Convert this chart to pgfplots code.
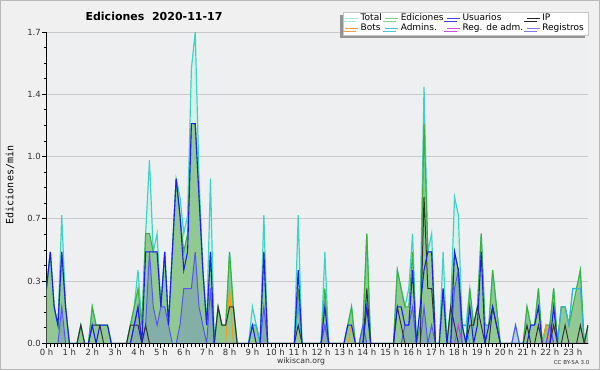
\documentclass[border=0pt]{standalone}
\usepackage{fontspec}
\setmainfont{DejaVu Sans}
\newfontfamily\monofont{DejaVu Sans Mono}
\usepackage{pgfplots}
\pgfplotsset{compat=1.18}
\usepackage{pgfplotstable}
\usetikzlibrary{shadows}

\definecolor{outc}{HTML}{F0F0F0}
\definecolor{bgc}{HTML}{EEEFF1}
\definecolor{gridc}{HTML}{C9C9C9}
\definecolor{totfill}{HTML}{D6F1EC}
\definecolor{totline}{HTML}{3FD3C6}
\definecolor{edfill}{HTML}{92C993}
\definecolor{edline}{HTML}{3DB13D}
\definecolor{usr}{HTML}{1E1EF0}
\definecolor{ipc}{HTML}{333333}
\definecolor{reg}{HTML}{5555F2}
\definecolor{bots}{HTML}{F39A1E}
\definecolor{adm}{HTML}{2EB4E0}
\definecolor{radm}{HTML}{C23EE0}
\definecolor{lgtot}{HTML}{A8E6E6}
\definecolor{lged}{HTML}{82CF82}
\definecolor{lgusr}{HTML}{4444DD}
\definecolor{lgip}{HTML}{222222}
\definecolor{lgbots}{HTML}{F0A040}
\definecolor{lgadm}{HTML}{4CC6DD}
\definecolor{lgradm}{HTML}{D050E0}
\definecolor{lgreg}{HTML}{7C7CF0}
\definecolor{tickc}{HTML}{333333}

% k = 10-minute interval of the day; T Total, E Ediciones, U Usuarios, I IP,
% R Registros, B Bots, A Admins., M Reg. de adm.
\pgfplotstableread{
k T E U I R B A M
0 0.3 0.3 0.3 0 0 0 0 0
1 0.5 0.5 0.5 0 0 0 0 0
2 0.2 0.2 0.2 0 0 0 0 0
3 0.1 0.1 0.1 0 0 0 0 0
4 0.7 0.5 0.5 0 0.2 0 0 0
5 0.2 0.2 0.2 0 0 0 0 0
6 0 0 0 0 0 0 0 0
7 0 0 0 0 0 0 0 0
8 0 0 0 0 0 0 0 0
9 0.1 0.1 0 0.1 0 0 0 0
10 0 0 0 0 0 0 0 0
11 0 0 0 0 0 0 0 0
12 0.2 0.2 0.1 0.1 0 0 0 0
13 0.1 0.1 0 0.1 0 0 0 0
14 0.1 0.1 0.1 0.1 0 0 0 0
15 0.1 0.1 0.1 0 0 0 0 0
16 0.1 0.1 0.1 0 0 0 0 0
17 0 0 0 0 0 0 0 0
18 0 0 0 0 0 0 0 0
19 0 0 0 0 0 0 0 0
20 0 0 0 0 0 0 0 0
21 0 0 0 0 0 0 0 0
22 0.1 0.1 0 0.1 0 0 0 0
23 0.2 0.2 0.1 0.1 0.1 0 0 0
24 0.4 0.3 0.2 0.1 0.2 0 0 0
25 0.1 0.1 0 0 0 0 0 0
26 0.6 0.6 0.5 0.1 0.1 0 0 0
27 1.0 0.6 0.5 0 0.5 0 0 0
28 0.5 0.5 0.5 0 0.2 0 0 0
29 0.6 0.5 0.5 0 0.1 0 0 0
30 0.2 0.2 0.2 0 0.2 0 0 0
31 0.5 0.5 0.5 0 0.2 0 0 0
32 0.1 0.1 0.1 0 0.1 0 0 0
33 0.5 0.5 0.5 0 0 0 0 0
34 0.9 0.9 0.9 0 0 0 0 0
35 0.8 0.7 0.7 0 0.1 0 0 0
36 0.6 0.5 0.4 0 0.3 0 0 0
37 0.7 0.6 0.5 0 0.3 0 0 0
38 1.5 1.2 1.2 0 0.3 0 0 0
39 1.7 1.2 1.2 0 0.5 0 0 0
40 0.9 0.8 0.8 0 0.2 0 0 0
41 0.4 0.4 0.4 0 0.1 0 0 0
42 0.1 0.1 0.1 0 0 0 0 0
43 0.9 0.5 0.5 0 0.3 0 0 0
44 0 0 0 0 0 0 0 0
45 0.2 0.2 0 0.2 0 0 0 0
46 0.1 0.1 0 0.1 0 0 0 0
47 0.1 0.1 0 0.1 0 0 0 0
48 0.5 0.5 0 0.2 0 0.3 0 0
49 0.2 0.2 0 0.2 0 0 0 0
50 0 0 0 0 0 0 0 0
51 0 0 0 0 0 0 0 0
52 0 0 0 0 0 0 0 0
53 0 0 0 0 0 0 0 0
54 0.2 0.1 0.1 0 0 0 0.1 0
55 0.1 0.1 0 0 0 0 0.1 0
56 0 0 0 0 0 0 0 0
57 0.7 0.5 0.5 0 0.2 0 0 0
58 0 0 0 0 0 0 0 0
59 0 0 0 0 0 0 0 0
60 0 0 0 0 0 0 0 0
61 0 0 0 0 0 0 0 0
62 0 0 0 0 0 0 0 0
63 0 0 0 0 0 0 0 0
64 0 0 0 0 0 0 0 0
65 0 0 0 0 0 0 0 0
66 0.7 0.3 0.4 0.1 0 0 0.2 0
67 0 0 0 0 0 0 0 0
68 0 0 0 0 0 0 0 0
69 0 0 0 0 0 0 0 0
70 0 0 0 0 0 0 0 0
71 0 0 0 0 0 0 0 0
72 0 0 0 0 0 0 0 0
73 0.5 0.3 0.2 0 0.1 0 0 0.1
74 0 0 0 0 0 0 0 0
75 0 0 0 0 0 0 0 0
76 0 0 0 0 0 0 0 0
77 0 0 0 0 0 0 0 0
78 0 0 0 0 0 0 0 0
79 0.1 0.1 0.1 0 0 0 0 0
80 0.2 0.2 0.1 0 0 0.1 0 0
81 0 0 0 0 0 0 0 0
82 0 0 0 0 0 0 0 0
83 0.1 0.1 0 0 0.1 0 0 0
84 0.6 0.6 0.2 0.3 0 0 0.2 0
85 0 0 0 0 0 0 0 0
86 0 0 0 0 0 0 0 0
87 0 0 0 0 0 0 0 0
88 0 0 0 0 0 0 0 0
89 0 0 0 0 0 0 0 0
90 0 0 0 0 0 0 0 0
91 0 0 0 0 0 0 0 0
92 0.4 0.4 0.2 0.2 0 0 0 0
93 0.3 0.3 0.2 0.1 0 0 0 0
94 0.2 0.2 0.1 0 0.1 0 0 0
95 0.3 0.2 0.1 0 0.1 0 0 0
96 0.6 0.5 0.4 0 0.2 0 0 0
97 0 0 0 0 0 0 0 0
98 0.2 0.1 0.2 0 0 0 0 0
99 1.4 1.2 0.4 0.8 0.2 0 0 0
100 0.5 0.5 0.5 0.3 0 0 0 0
101 0.6 0.5 0.5 0.3 0.1 0 0 0
102 0 0 0 0 0 0 0 0
103 0 0 0 0 0 0 0 0
104 0.5 0.3 0.3 0 0 0 0 0
105 0 0 0 0 0 0 0 0
106 0.2 0.2 0 0.2 0 0 0 0
107 0.8 0.5 0.5 0.1 0.3 0 0 0
108 0.7 0.4 0.4 0 0.4 0 0 0.1
109 0.1 0.1 0.1 0 0 0 0.1 0
110 0.1 0 0 0 0 0 0.1 0
111 0.3 0.3 0.2 0.1 0 0 0 0
112 0.1 0.1 0 0.1 0 0 0 0
113 0.2 0.2 0.1 0.2 0 0 0 0
114 0.6 0.6 0.5 0.1 0 0 0 0
115 0.1 0.1 0 0 0 0 0 0
116 0.1 0.1 0.1 0 0 0 0 0
117 0.4 0.4 0.2 0.2 0 0 0 0
118 0.2 0.2 0.1 0.1 0 0 0 0
119 0 0 0 0 0 0 0 0
120 0 0 0 0 0 0 0 0
121 0 0 0 0 0 0 0 0
122 0 0 0 0 0 0 0 0
123 0.1 0 0 0 0.1 0 0 0
124 0 0 0 0 0 0 0 0
125 0 0 0 0 0 0 0 0
126 0.2 0.2 0 0.1 0 0 0 0
127 0.1 0.1 0.1 0 0 0 0 0
128 0.1 0.1 0.1 0 0 0 0 0
129 0.3 0.3 0.2 0.1 0 0 0 0
130 0 0 0 0 0 0 0 0
131 0.1 0.1 0 0 0 0.1 0 0
132 0.1 0.1 0 0 0.1 0 0 0.1
133 0.3 0.3 0.2 0.1 0 0.1 0 0
134 0 0 0 0 0 0 0 0
135 0.2 0.2 0 0 0 0 0.2 0
136 0.2 0.2 0 0.1 0 0 0.2 0
137 0.1 0.1 0 0 0 0 0.1 0
138 0.3 0.2 0 0 0 0 0.3 0
139 0.3 0.3 0 0 0 0 0.3 0
140 0.4 0.4 0 0.1 0 0 0.3 0
141 0 0 0 0 0 0 0 0
142 0.1 0.1 0 0.1 0 0 0 0
}\data

\begin{document}
\begin{tikzpicture}[x=1pt,y=1pt]
\fill[outc] (0pt,0pt) rectangle (600pt,370pt);
\draw[gray!55, line width=1pt] (0.5pt,0.5pt) rectangle (599.5pt,369.5pt);
\begin{axis}[
  at={(46.5pt,26.5pt)}, anchor=south west,
  scale only axis, width=541.5pt, height=311.5pt,
  xmin=0, xmax=142, ymin=0, ymax=1.7,
  axis x line*=bottom, axis y line*=left,
  axis line style={black, line width=1.1pt},
  axis background/.style={fill=bgc},
  xtick={0,6,...,138},
  xticklabels={0 h,1 h,2 h,3 h,4 h,5 h,6 h,7 h,8 h,9 h,10 h,11 h,12 h,13 h,14 h,15 h,16 h,17 h,18 h,19 h,20 h,21 h,22 h,23 h},
  minor x tick num=5,
  ytick={0,0.34,0.68,1.02,1.36,1.7},
  yticklabels={0.0,0.3,0.7,1.0,1.4,1.7},
  minor y tick num=3,
  tick align=outside,
  major tick length=4.5pt, minor tick length=3pt,
  tick style={black, line width=0.9pt},
  ymajorgrids, grid style={gridc, line width=0.9pt},
  xticklabel style={font=\fontsize{8.5}{9}\selectfont, text=tickc, inner sep=1pt},
  yticklabel style={font=\fontsize{8.5}{9}\selectfont, text=tickc, inner sep=1pt},
  legend columns=4,
  legend cell align=left,
  legend image code/.code={\draw[#1, line width=1pt] (0pt,0pt) -- (13pt,0pt);},
  legend style={at={(1,1)}, anchor=north east, yshift=20.3pt,
    font=\fontsize{9}{10}\selectfont, draw=gray!45, fill=white,
    inner xsep=2pt, inner ysep=1.5pt, row sep=0pt,
    nodes={inner xsep=2pt, inner ysep=0pt, text height=7.5pt, text depth=2.5pt},
    /tikz/every even column/.append style={column sep=1pt},
    drop shadow={shadow xshift=-2.7pt, shadow yshift=-2.7pt, fill=gray!85, opacity=1}},
]
\addlegendimage{lgtot}\addlegendentry{Total}
\addlegendimage{lged}\addlegendentry{Ediciones}
\addlegendimage{lgusr}\addlegendentry{Usuarios}
\addlegendimage{lgip}\addlegendentry{IP}
\addlegendimage{lgbots}\addlegendentry{Bots}
\addlegendimage{lgadm}\addlegendentry{Admins.}
\addlegendimage{lgradm}\addlegendentry{Reg. de adm.}
\addlegendimage{lgreg}\addlegendentry{Registros}

\addplot[fill=totfill, draw=none, forget plot] table[x=k,y=T]{\data} \closedcycle;
\addplot[fill=edfill, draw=none, forget plot] table[x=k,y=E]{\data} \closedcycle;
\addplot[fill=reg, fill opacity=0.22, draw=none, forget plot] table[x=k,y=R]{\data} \closedcycle;
\addplot[totline, line width=1.2pt, forget plot] table[x=k,y=T]{\data};
\addplot[edline, line width=1.1pt, forget plot] table[x=k,y=E]{\data};
\addplot[bots, line width=1pt, forget plot] table[x=k,y=B]{\data};
\addplot[adm, line width=1pt, forget plot] table[x=k,y=A]{\data};
\addplot[radm, line width=1pt, forget plot] table[x=k,y=M]{\data};
\addplot[reg, line width=1pt, forget plot] table[x=k,y=R]{\data};
\addplot[ipc, line width=1pt, forget plot] table[x=k,y=I]{\data};
\addplot[usr, line width=1.1pt, forget plot] table[x=k,y=U]{\data};
\draw[black, line width=1.2pt] (rel axis cs:0,0) -- (rel axis cs:1,0);
\draw[black, line width=1.1pt] (rel axis cs:0,0) -- (rel axis cs:0,1);
\end{axis}
\node[font=\bfseries\fontsize{11}{13}\selectfont] at (154pt,353.5pt) {Ediciones\ \ 2020-11-17};
\node[rotate=90, font=\monofont\fontsize{10}{12}\selectfont] at (10pt,185pt) {Ediciones/min};
\node[font=\fontsize{7.7}{9}\selectfont, text=tickc] at (301pt,8.3pt) {wikiscan.org};
\node[font=\fontsize{5.5}{7}\selectfont, text=tickc, anchor=east, inner sep=0pt] at (589.5pt,7.3pt) {CC BY-SA 3.0};
\pgfresetboundingbox
\useasboundingbox (0pt,0pt) rectangle (600pt,370pt);
\end{tikzpicture}
\end{document}
